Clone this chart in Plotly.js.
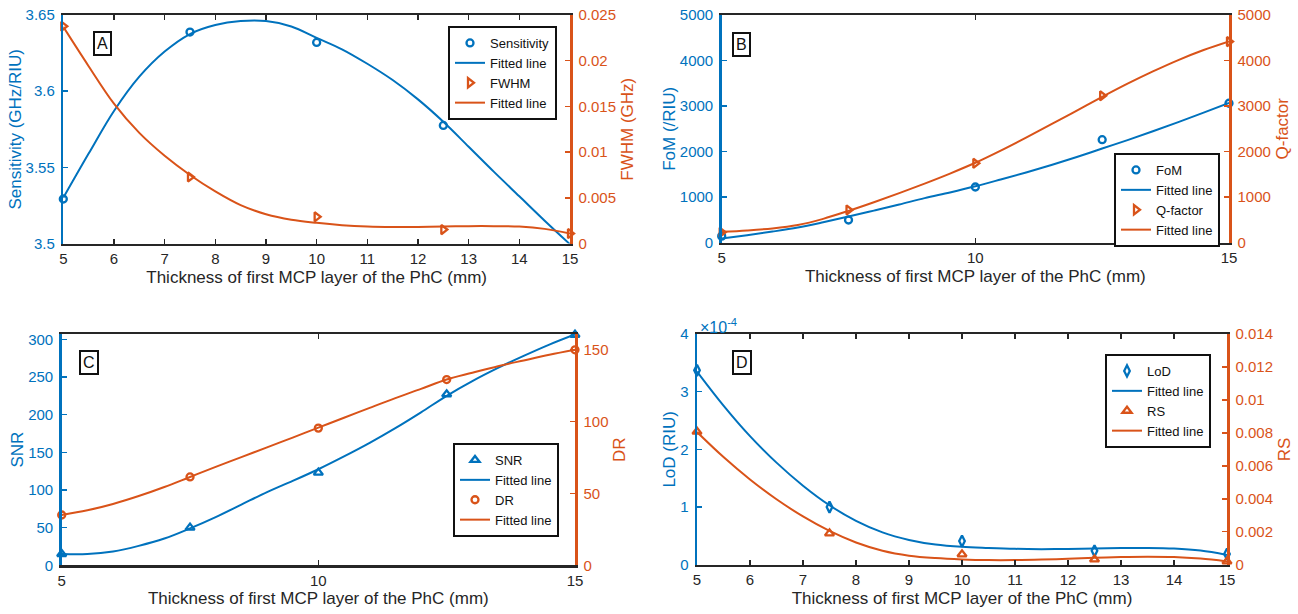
<!DOCTYPE html>
<html>
<head>
<meta charset="utf-8">
<script src="https://cdn.plot.ly/plotly-3.0.1.min.js"></script>
<style>html,body{margin:0;padding:0;background:#fff;}#chart{width:1298px;height:614px;}</style>
</head>
<body>
<div id="chart"></div>
<script>
// ---------- data ----------
const thickness = [5, 7.5, 10, 12.5, 15];
const fitX = [5, 5.5, 6, 6.5, 7, 7.5, 8, 8.5, 9, 9.5, 10, 10.5, 11, 11.5, 12, 12.5, 13, 13.5, 14, 14.5, 15];

// Panel A
const sensitivity = [3.5292, 3.6388, 3.6320, 3.5775, 3.4997];
const sensitivityFit = [3.530, 3.559, 3.587, 3.6095, 3.626, 3.6375, 3.6434, 3.646, 3.646, 3.6425, 3.635, 3.6275, 3.618, 3.6073, 3.5946, 3.5799, 3.5635, 3.547, 3.531, 3.515, 3.4995];
const fwhm = [0.02376, 0.00728, 0.00292, 0.00152, 0.00109];
const fwhmFit = [0.0237, 0.0194, 0.0153, 0.0121, 0.0096, 0.0075, 0.0057, 0.0042, 0.0032, 0.0026, 0.00226, 0.00201, 0.00186, 0.00180, 0.00180, 0.00185, 0.00190, 0.00190, 0.00185, 0.00160, 0.00110];

// Panel B
const fom = [140, 495, 1220, 2260, 3060];
const fomFit = [88, 160, 240, 330, 445, 570, 700, 835, 975, 1100, 1235, 1385, 1540, 1705, 1880, 2065, 2250, 2445, 2645, 2855, 3070];
const qFactor = [225, 715, 1740, 3225, 4415];
const qFactorFit = [235, 265, 310, 385, 520, 695, 885, 1085, 1295, 1515, 1752, 2020, 2305, 2600, 2900, 3200, 3490, 3760, 4010, 4230, 4420];

// Panel C
const snr = [15, 50, 123, 227, 306];
const snrFit = [15, 15, 18.4, 25.8, 35.5, 49, 64, 80.6, 97.2, 112, 127.5, 144.5, 162.5, 182, 203, 225, 244.5, 262, 278, 293, 306.5];
const dr = [35, 61.5, 95.5, 129.3, 150];
const drFit = [35, 38.3, 42.7, 48.2, 54.5, 61.5, 68.5, 75.3, 82.1, 88.9, 95.8, 102.7, 109.6, 116.4, 122.8, 129.3, 134, 138.6, 142.6, 146.5, 150];

// Panel D
const lod = [3.37e-4, 1.0e-4, 0.41e-4, 0.24e-4, 0.185e-4];
const lodFit = [3.35e-4, 2.76e-4, 2.23e-4, 1.77e-4, 1.37e-4, 1.03e-4, 0.76e-4, 0.56e-4, 0.43e-4, 0.35e-4, 0.31e-4, 0.29e-4, 0.275e-4, 0.27e-4, 0.272e-4, 0.28e-4, 0.288e-4, 0.29e-4, 0.28e-4, 0.245e-4, 0.17e-4];
const rs = [0.00807, 0.0019, 0.00063, 0.00032, 0.0002];
const rsFit = [0.00805, 0.00653, 0.00517, 0.00397, 0.00293, 0.00205, 0.00135, 0.00085, 0.00055, 0.00040, 0.00032, 0.00028, 0.00028, 0.00031, 0.00036, 0.00042, 0.00047, 0.00049, 0.00047, 0.00037, 0.00020];

// tick labels
const xTicksFine = [5, 6, 7, 8, 9, 10, 11, 12, 13, 14, 15];
const xTicksCoarse = [5, 10, 15];
const aLeftTicks = [3.5, 3.55, 3.6, 3.65];
const aLeftText = ['3.5', '3.55', '3.6', '3.65'];
const aRightTicks = [0, 0.005, 0.01, 0.015, 0.02, 0.025];
const aRightText = ['0', '0.005', '0.01', '0.015', '0.02', '0.025'];
const bTicks = [0, 1000, 2000, 3000, 4000, 5000];
const bText = ['0', '1000', '2000', '3000', '4000', '5000'];
const cLeftTicks = [0, 50, 100, 150, 200, 250, 300];
const cRightTicks = [0, 50, 100, 150];
const dLeftTicks = [0, 1e-4, 2e-4, 3e-4, 4e-4];
const dLeftText = ['0', '1', '2', '3', '4'];
const dRightTicks = [0, 0.002, 0.004, 0.006, 0.008, 0.01, 0.012, 0.014];
const dRightText = ['0', '0.002', '0.004', '0.006', '0.008', '0.01', '0.012', '0.014'];

const xTitle = 'Thickness of first MCP layer of the PhC (mm)';

// ---------- styling ----------
const BLUE = '#0072BD';
const ORANGE = '#D95319';
const DARK = '#262626';
const FONT = 'Liberation Sans, Arial, Helvetica, sans-serif';

function markers(x, y, name, sym, color, xa, ya, leg, size) {
  return {x: x, y: y, name: name, type: 'scatter', mode: 'markers', xaxis: xa, yaxis: ya, legend: leg,
    marker: {symbol: sym, size: size || 7, color: color, line: {color: color, width: 2.3}},
    cliponaxis: false};
}
function fitLine(x, y, color, xa, ya, leg) {
  return {x: x, y: y, name: 'Fitted line', type: 'scatter', mode: 'lines', xaxis: xa, yaxis: ya, legend: leg,
    line: {color: color, width: 2, shape: 'spline', smoothing: 1}};
}

const traces = [
  markers(thickness, sensitivity, 'Sensitivity', 'circle-open', BLUE, 'x', 'y', 'legend'),
  fitLine(fitX, sensitivityFit, BLUE, 'x', 'y', 'legend'),
  markers(thickness, fwhm, 'FWHM', 'triangle-right-open', ORANGE, 'x', 'y2', 'legend', 8),
  fitLine(fitX, fwhmFit, ORANGE, 'x', 'y2', 'legend'),

  markers(thickness, fom, 'FoM', 'circle-open', BLUE, 'x2', 'y3', 'legend2'),
  fitLine(fitX, fomFit, BLUE, 'x2', 'y3', 'legend2'),
  markers(thickness, qFactor, 'Q-factor', 'triangle-right-open', ORANGE, 'x2', 'y4', 'legend2', 8),
  fitLine(fitX, qFactorFit, ORANGE, 'x2', 'y4', 'legend2'),

  markers(thickness, snr, 'SNR', 'triangle-up-open', BLUE, 'x3', 'y5', 'legend3', 8),
  fitLine(fitX, snrFit, BLUE, 'x3', 'y5', 'legend3'),
  markers(thickness, dr, 'DR', 'circle-open', ORANGE, 'x3', 'y6', 'legend3'),
  fitLine(fitX, drFit, ORANGE, 'x3', 'y6', 'legend3'),

  markers(thickness, lod, 'LoD', 'diamond-tall-open', BLUE, 'x4', 'y7', 'legend4', 8),
  fitLine(fitX, lodFit, BLUE, 'x4', 'y7', 'legend4'),
  markers(thickness, rs, 'RS', 'triangle-up-open', ORANGE, 'x4', 'y8', 'legend4', 8),
  fitLine(fitX, rsFit, ORANGE, 'x4', 'y8', 'legend4')
];

const W = 1298, H = 614;
function dx(a, b) { return [a / W, b / W]; }
function dy(top, bottom) { return [1 - bottom / H, 1 - top / H]; }

function xAxis(dom, anchor, ticks) {
  return {domain: dom, anchor: anchor, range: [5, 15], tickvals: ticks, ticktext: ticks.map(String),
    ticks: 'inside', ticklen: 5, tickwidth: 1.5, tickcolor: DARK,
    showline: true, linecolor: DARK, linewidth: 2.5, mirror: 'ticks',
    showgrid: false, zeroline: false, fixedrange: true,
    tickfont: {family: FONT, size: 15, color: DARK},
    title: {text: xTitle, font: {family: FONT, size: 17, color: DARK}, standoff: 5}};
}
function yAxis(dom, anchor, range, tv, tt, color, title, side, overlay) {
  const ax = {anchor: anchor, range: range, tickvals: tv, ticktext: tt,
    ticks: 'inside', ticklen: 5, tickwidth: 1.5, tickcolor: color,
    showline: true, linecolor: color, linewidth: 2.5,
    showgrid: false, zeroline: false, fixedrange: true, ticklabelstandoff: 3,
    tickfont: {family: FONT, size: 15, color: color},
    title: {text: title, font: {family: FONT, size: 17, color: color}, standoff: overlay ? 6 : 0}};
  if (overlay) { ax.overlaying = overlay; ax.side = side; } else { ax.domain = dom; ax.side = 'left'; }
  return ax;
}
function legendBox(xr, ytop) {
  return {x: xr / W, y: 1 - ytop / H, xanchor: 'right', yanchor: 'top',
    bgcolor: '#ffffff', bordercolor: '#111111', borderwidth: 2,
    font: {family: FONT, size: 13, color: '#111111'}, itemwidth: 30, tracegroupgap: 0};
}
function letter(t, cx, cy) {
  return {text: t, xref: 'paper', yref: 'paper', x: cx / W, y: 1 - cy / H, xanchor: 'center', yanchor: 'middle',
    showarrow: false, font: {family: FONT, size: 16, color: '#111111'},
    bgcolor: '#ffffff', bordercolor: '#111111', borderwidth: 2, borderpad: 2};
}

const layout = {
  width: W, height: H, autosize: false,
  margin: {l: 0, r: 0, t: 0, b: 0},
  paper_bgcolor: '#ffffff', plot_bgcolor: '#ffffff',
  font: {family: FONT},
  showlegend: true,
  xaxis: xAxis(dx(63.3, 570), 'y', xTicksFine),
  yaxis: yAxis(dy(15, 243.5), 'x', [3.5, 3.65], aLeftTicks, aLeftText, BLUE, 'Sensitivity (GHz/RIU)'),
  yaxis2: yAxis(null, 'x', [0, 0.025], aRightTicks, aRightText, ORANGE, 'FWHM (GHz)', 'right', 'y'),

  xaxis2: xAxis(dx(721.7, 1229), 'y3', xTicksCoarse),
  yaxis3: yAxis(dy(15, 242.5), 'x2', [0, 5000], bTicks, bText, BLUE, 'FoM (/RIU)'),
  yaxis4: yAxis(null, 'x2', [0, 5000], bTicks, bText, ORANGE, 'Q-factor', 'right', 'y3'),

  xaxis3: xAxis(dx(61.7, 575), 'y5', xTicksCoarse),
  yaxis5: yAxis(dy(334, 565.3), 'x3', [0, 307], cLeftTicks, cLeftTicks.map(String), BLUE, 'SNR'),
  yaxis6: yAxis(null, 'x3', [0, 161], cRightTicks, cRightTicks.map(String), ORANGE, 'DR', 'right', 'y5'),

  xaxis4: xAxis(dx(697, 1227), 'y7', xTicksFine),
  yaxis7: yAxis(dy(334, 564.7), 'x4', [0, 4e-4], dLeftTicks, dLeftText, BLUE, 'LoD (RIU)'),
  yaxis8: yAxis(null, 'x4', [0, 0.014], dRightTicks, dRightText, ORANGE, 'RS', 'right', 'y7'),

  legend: legendBox(557, 26),
  legend2: legendBox(1220, 153),
  legend3: legendBox(559, 443),
  legend4: legendBox(1211, 354),

  annotations: [
    letter('A', 102, 43),
    letter('B', 741.7, 44),
    letter('C', 88.8, 362),
    letter('D', 741.7, 362),
    {text: '\u00d710<sup>-4</sup>', xref: 'paper', yref: 'paper', x: 698 / W, y: 1 - 326 / H,
     xanchor: 'left', yanchor: 'middle', showarrow: false, font: {family: FONT, size: 16, color: BLUE}}
  ]
};

Plotly.newPlot('chart', traces, layout, {staticPlot: true, displayModeBar: false});
</script>
</body>
</html>
